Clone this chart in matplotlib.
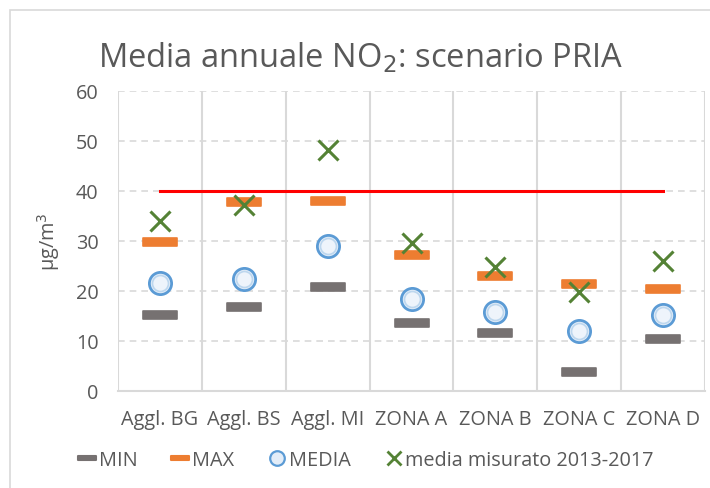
import matplotlib
matplotlib.use("Agg")
import matplotlib.pyplot as plt
from matplotlib.path import Path
from matplotlib.patches import Rectangle
from matplotlib.lines import Line2D
import numpy as np

plt.rcParams['font.family'] = ['Open Sans', 'DejaVu Sans']

categories = ["Aggl. BG", "Aggl. BS", "Aggl. MI", "ZONA A", "ZONA B", "ZONA C", "ZONA D"]
val_min = [15.2, 16.9, 20.9, 13.6, 11.7, 3.9, 10.5]
val_max = [29.9, 37.9, 38.1, 27.2, 23.1, 21.4, 20.5]
val_media = [21.7, 22.4, 29.1, 18.4, 15.9, 12.1, 15.2]
val_misurato = [34.1, 37.2, 48.3, 29.7, 24.9, 19.9, 26.1]
limite = [40] * len(categories)
yticks = [0, 10, 20, 30, 40, 50, 60]

TXT = "#595959"
GRID = "#d9d9d9"

# wide flat bar marker used for MIN / MAX
bar_marker = Path([(-1, -0.24), (1, -0.24), (1, 0.24), (-1, 0.24), (-1, -0.24)],
                  [Path.MOVETO, Path.LINETO, Path.LINETO, Path.LINETO, Path.CLOSEPOLY])

fig = plt.figure(figsize=(7.1, 4.89), dpi=100)
W, H = 710, 489
ax = fig.add_axes([118 / W, 1 - 392 / H, (705 - 118) / W, (392 - 92) / H])

# chart frame
fig.patches.append(Rectangle((10 / W, -0.05), 1.1, 1 - 11 / H + 0.05,
                             transform=fig.transFigure, fill=False,
                             edgecolor=GRID, linewidth=1.2))

x = np.arange(len(categories))
ax.set_xlim(-0.5, len(categories) - 0.5)
ax.set_ylim(0, 60)

# grid
for yv in yticks[1:]:
    ax.axhline(yv, color=GRID, linestyle=(0, (4, 3)), linewidth=1.2, zorder=0)
for xv in np.arange(-0.5, len(categories), 1.0):
    ax.axvline(xv, color=GRID, linewidth=1.5, zorder=0)
for s in ["top", "right", "left"]:
    ax.spines[s].set_visible(False)
ax.spines["bottom"].set_color(GRID)
ax.spines["bottom"].set_linewidth(1.5)

ax.plot(x, limite, color="#ff0000", linewidth=2.2, zorder=2)

ax.plot(x, val_min, linestyle="none", marker=bar_marker, markersize=25,
        markerfacecolor="#767171", markeredgecolor="#767171", markeredgewidth=1.2,
        zorder=3, label="MIN")
ax.plot(x, val_max, linestyle="none", marker=bar_marker, markersize=25,
        markerfacecolor="#ed7d31", markeredgecolor="#ed7d31", markeredgewidth=1.2,
        zorder=3, label="MAX")
ax.plot(x, val_media, linestyle="none", marker="o", markersize=16,
        markerfacecolor="#e3edf8", markeredgecolor="#5b9bd5", markeredgewidth=2,
        zorder=4, label="MEDIA")
ax.plot(x, val_media, linestyle="none", marker="o", markersize=11.5,
        markerfacecolor="#eef4fb", markeredgecolor="#bdd7ee", markeredgewidth=1.2,
        zorder=4)
ax.plot(x, val_misurato, linestyle="none", marker="x", markersize=14,
        markeredgecolor="#548235", markeredgewidth=2.2, zorder=5,
        label="media misurato 2013-2017")

ax.set_xticks(x)
ax.set_xticklabels(categories)
ax.set_yticks(yticks)
ax.tick_params(axis="both", length=0, labelsize=14.3, colors=TXT)
ax.tick_params(axis="x", pad=13)
ax.tick_params(axis="y", pad=14)

ax.set_ylabel("µg/m$^3$", fontsize=14.3, color=TXT, labelpad=10)

fig.text(0.5 * (97 + 625) / W, 1 - 58 / H, "Media annuale NO$_2$: scenario PRIA",
         ha="center", va="center", fontsize=23.5, color=TXT)

handles = [
    Line2D([], [], linestyle="none", marker=bar_marker, markersize=13,
           markerfacecolor="#767171", markeredgecolor="#767171", markeredgewidth=1.5),
    Line2D([], [], linestyle="none", marker=bar_marker, markersize=13,
           markerfacecolor="#ed7d31", markeredgecolor="#ed7d31", markeredgewidth=1.5),
    Line2D([], [], linestyle="none", marker="o", markersize=10.5,
           markerfacecolor="#e3edf8", markeredgecolor="#5b9bd5", markeredgewidth=1.6),
    Line2D([], [], linestyle="none", marker="x", markersize=10,
           markeredgecolor="#548235", markeredgewidth=2),
]
labels = ["MIN", "MAX", "MEDIA", "media misurato 2013-2017"]
fig.legend(handles, labels, loc="center", bbox_to_anchor=(0.5 * (75 + 657) / W, 1 - 461 / H),
           ncol=4, frameon=False, fontsize=14.3, labelcolor=TXT,
           handlelength=0.9, handletextpad=0.15, columnspacing=1.7)

fig.savefig("out.png", dpi=100)
